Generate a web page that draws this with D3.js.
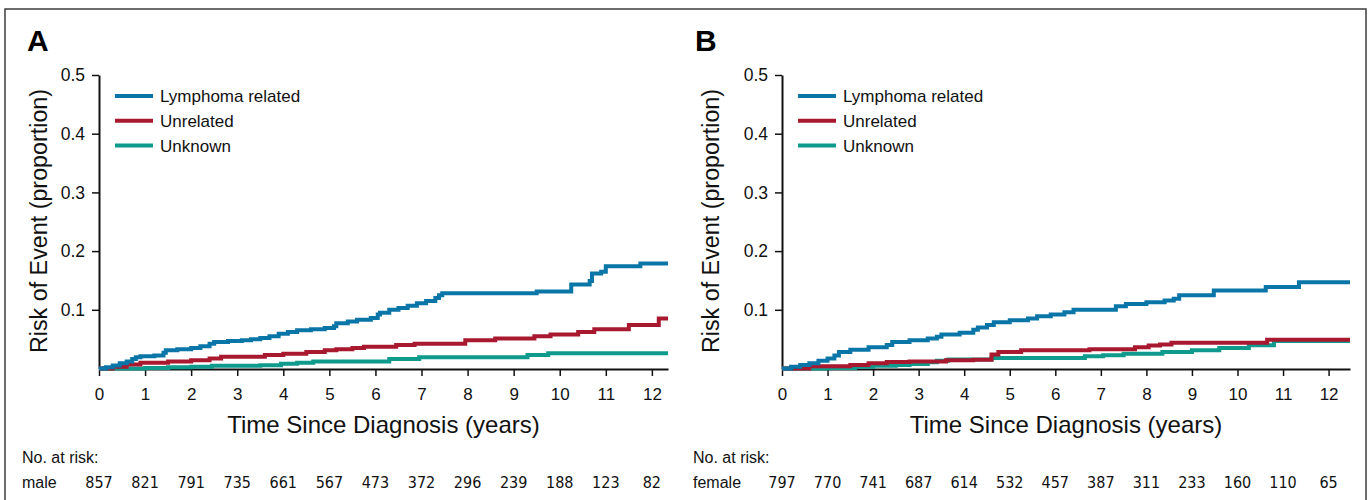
<!DOCTYPE html>
<html>
<head>
<meta charset="utf-8">
<script src="https://cdn.jsdelivr.net/npm/d3@7"></script>
<style>
  html, body { margin: 0; padding: 0; background: #fff; }
  svg { display: block; }
</style>
</head>
<body>
<svg id="chart" width="1372" height="500"></svg>
<script>
// ---------------- DATA ----------------
const xTicks = [0,1,2,3,4,5,6,7,8,9,10,11,12];
const yTicks = [0.1,0.2,0.3,0.4,0.5];
const seriesNames = ["Lymphoma related","Unrelated","Unknown"];
const seriesColors = ["#0a76a8","#a8192f","#0e9a8d"];

const maleAtRisk   = [857,821,791,735,661,567,473,372,296,239,188,123,82];
const femaleAtRisk = [797,770,741,687,614,532,457,387,311,233,160,110,65];

// [time (years), cumulative risk] step points
const maleLymphoma = [[0,0],[0.15,0.002],[0.3,0.005],[0.45,0.009],[0.6,0.012],[0.72,0.016],[0.8,0.019],[0.9,0.021],
  [1.2,0.022],[1.4,0.027],[1.45,0.031],[1.7,0.033],[2.0,0.035],[2.2,0.038],[2.4,0.042],[2.5,0.045],[2.8,0.047],
  [3.1,0.048],[3.3,0.05],[3.5,0.052],[3.7,0.055],[3.9,0.059],[4.1,0.062],[4.3,0.065],[4.6,0.067],[4.9,0.069],
  [5.1,0.072],[5.15,0.077],[5.4,0.08],[5.6,0.083],[5.9,0.086],[6.05,0.092],[6.1,0.095],[6.3,0.1],[6.5,0.103],
  [6.7,0.107],[6.9,0.111],[7.1,0.115],[7.3,0.12],[7.38,0.125],[7.45,0.128],[9.5,0.131],[10.25,0.143],
  [10.65,0.149],[10.7,0.162],[10.9,0.165],[11.0,0.174],[11.75,0.179],[12.35,0.179]];
const maleUnrelated = [[0,0],[0.3,0.003],[0.6,0.007],[0.9,0.01],[1.5,0.012],[2.0,0.014],[2.4,0.017],[2.65,0.02],
  [3.6,0.023],[4.0,0.025],[4.5,0.028],[4.9,0.031],[5.15,0.033],[5.5,0.035],[5.75,0.037],[6.45,0.04],[6.85,0.042],
  [7.95,0.048],[8.6,0.051],[9.45,0.055],[9.8,0.058],[10.4,0.062],[10.75,0.067],[11.5,0.074],[12.15,0.085],[12.35,0.085]];
const maleUnknown = [[0,0],[1.0,0.001],[1.5,0.002],[2.0,0.003],[2.45,0.0045],[3.5,0.0055],[3.95,0.008],[4.3,0.01],
  [4.65,0.012],[6.3,0.016],[6.95,0.019],[9.3,0.023],[9.75,0.026],[12.35,0.026]];

const femaleLymphoma = [[0,0],[0.2,0.003],[0.4,0.006],[0.6,0.009],[0.8,0.013],[1.0,0.017],[1.15,0.022],[1.25,0.028],
  [1.5,0.032],[1.9,0.036],[2.3,0.04],[2.42,0.045],[2.8,0.048],[3.2,0.051],[3.4,0.054],[3.5,0.058],[3.9,0.061],
  [4.2,0.066],[4.3,0.07],[4.5,0.074],[4.65,0.079],[5.0,0.082],[5.4,0.085],[5.6,0.089],[5.9,0.092],[6.2,0.096],
  [6.4,0.1],[7.33,0.106],[7.55,0.11],[8.0,0.113],[8.4,0.116],[8.6,0.119],[8.72,0.125],[9.48,0.133],[10.62,0.139],
  [11.35,0.147],[12.47,0.147]];
const femaleUnrelated = [[0,0],[0.6,0.004],[1.5,0.006],[1.9,0.009],[2.3,0.011],[2.8,0.012],[3.6,0.014],[4.2,0.015],
  [4.6,0.024],[4.75,0.028],[5.25,0.031],[6.75,0.033],[7.75,0.036],[8.05,0.039],[8.3,0.041],[8.55,0.044],
  [10.65,0.049],[12.47,0.049]];
const femaleUnknown = [[0,0],[1.0,0.001],[1.6,0.003],[2.0,0.0045],[2.5,0.006],[2.8,0.0075],[3.2,0.0105],[3.4,0.013],
  [3.65,0.0155],[4.6,0.018],[6.65,0.021],[7.05,0.0225],[7.5,0.025],[8.35,0.028],[9.0,0.031],[9.6,0.035],
  [10.25,0.0395],[10.8,0.047],[12.47,0.047]];

// ---------------- DRAW ----------------
const svg = d3.select("#chart");
const SANS = "'Liberation Sans', Arial, Helvetica, sans-serif";
const NARROW = "'Liberation Sans Narrow', 'DejaVu Sans Condensed', 'Liberation Sans', sans-serif";

svg.append("rect").attr("x",5).attr("y",9).attr("width",1361).attr("height",600)
  .attr("fill","none").attr("stroke","#3c3c3c").attr("stroke-width",1.5);

const panels = [
  { letter:"A", letterX:27, x0:99, x1:668, tMax:12.35, yTitleX:47, yTitleCenter:221, legendX:115,
    riskLabelX:22, group:"male", atRisk:maleAtRisk, series:[maleLymphoma,maleUnrelated,maleUnknown] },
  { letter:"B", letterX:695, x0:782, x1:1350, tMax:12.47, yTitleX:719, yTitleCenter:221, legendX:798,
    riskLabelX:693, group:"female", atRisk:femaleAtRisk, series:[femaleLymphoma,femaleUnrelated,femaleUnknown] }
];

const yBase = 368.5, yTop = 75;

panels.forEach(p => {
  const g = svg.append("g");
  const x = d3.scaleLinear().domain([0, p.tMax]).range([p.x0, p.x1]);
  const y = d3.scaleLinear().domain([0, 0.5]).range([yBase, yTop]);

  // panel letter
  g.append("text").attr("x", p.letterX).attr("y", 51)
    .attr("font-family", SANS).attr("font-weight", "bold").attr("font-size", 30)
    .attr("fill", "#000").text(p.letter);

  // y axis
  const ya = g.append("g").attr("transform", `translate(${p.x0},0)`)
    .call(d3.axisLeft(y).tickValues(yTicks).tickFormat(d3.format(".1f"))
      .tickSize(7).tickPadding(7).tickSizeOuter(0));
  ya.select(".domain").attr("stroke", "#111").attr("stroke-width", 2);
  ya.selectAll(".tick line").attr("stroke", "#111").attr("stroke-width", 1.5);
  ya.selectAll(".tick text").attr("font-family", SANS).attr("font-size", 17.5).attr("fill", "#111");

  // x axis
  const xa = g.append("g").attr("transform", `translate(0,${yBase + 0.5})`)
    .call(d3.axisBottom(x).tickValues(xTicks).tickFormat(d3.format("d"))
      .tickSize(7).tickPadding(12).tickSizeOuter(0));
  xa.select(".domain").attr("stroke", "#111").attr("stroke-width", 2);
  xa.selectAll(".tick line").attr("stroke", "#111").attr("stroke-width", 1.5);
  xa.selectAll(".tick text").attr("font-family", SANS).attr("font-size", 17).attr("fill", "#111");

  // axis titles
  g.append("text").attr("x", (p.x0 + p.x1) / 2).attr("y", 433)
    .attr("text-anchor", "middle").attr("font-family", SANS).attr("font-size", 24)
    .attr("fill", "#111").text("Time Since Diagnosis (years)");
  g.append("text")
    .attr("transform", `translate(${p.yTitleX},${p.yTitleCenter}) rotate(-90)`)
    .attr("text-anchor", "middle").attr("font-family", SANS).attr("font-size", 23.3)
    .attr("fill", "#111").text("Risk of Event (proportion)");

  // legend
  seriesNames.forEach((name, i) => {
    const ly = 96 + i * 24.8;
    g.append("line").attr("x1", p.legendX).attr("x2", p.legendX + 38)
      .attr("y1", ly).attr("y2", ly).attr("stroke", seriesColors[i]).attr("stroke-width", 4);
    g.append("text").attr("x", p.legendX + 45).attr("y", ly + 6)
      .attr("font-family", SANS).attr("font-size", 17).attr("fill", "#111").text(name);
  });

  // curves
  const line = d3.line().x(d => x(d[0])).y(d => y(d[1])).curve(d3.curveStepAfter);
  // draw in reverse order so Lymphoma line is on top
  [2,1,0].forEach(i => {
    g.append("path").datum(p.series[i]).attr("d", line)
      .attr("fill", "none").attr("stroke", seriesColors[i]).attr("stroke-width", 4)
      .attr("stroke-linejoin", "miter").attr("stroke-linecap", "butt");
  });

  // at-risk table
  g.append("text").attr("x", p.riskLabelX).attr("y", 463)
    .attr("font-family", SANS).attr("font-size", 16).attr("fill", "#111").text("No. at risk:");
  g.append("text").attr("x", p.riskLabelX).attr("y", 488)
    .attr("font-family", SANS).attr("font-size", 16).attr("fill", "#111").text(p.group);
  g.selectAll(".risk").data(p.atRisk).join("text")
    .attr("class", "risk")
    .attr("x", (d, i) => x(xTicks[i])).attr("y", 488)
    .attr("text-anchor", "middle").attr("font-family", NARROW).attr("font-size", 16)
    .attr("fill", "#111").text(d => d);
});
</script>
</body>
</html>
